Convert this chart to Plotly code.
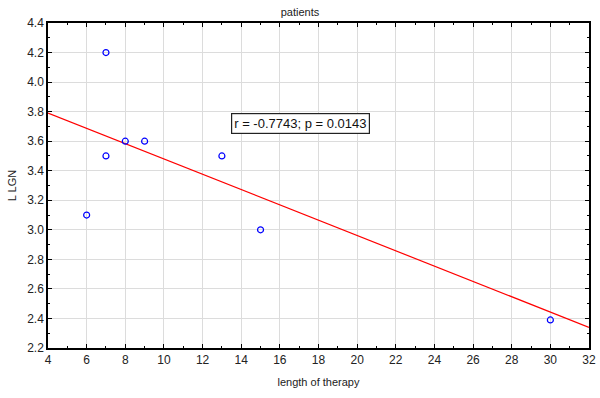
import plotly.graph_objects as go

# data
therapy_length = [6, 7, 7, 8, 9, 13, 15, 30]
l_lgn = [3.1, 4.2, 3.5, 3.6, 3.6, 3.5, 3.0, 2.39]
fit_x = [4, 32]
fit_y = [3.79, 2.34]
annotation_text = "r = -0.7743; p = 0.0143"

font_family = "Liberation Sans, Arial, sans-serif"

fig = go.Figure()
fig.add_trace(go.Scatter(
    x=fit_x, y=fit_y, mode="lines",
    line=dict(color="#ff0000", width=1.2), showlegend=False, hoverinfo="skip"))
fig.add_trace(go.Scatter(
    x=therapy_length, y=l_lgn, mode="markers",
    marker=dict(symbol="circle-open", size=6, color="#0000ff", line=dict(width=1.2, color="#0000ff")),
    showlegend=False))

axis_common = dict(
    showline=True, linecolor="black", linewidth=1.5, mirror="allticks",
    ticks="inside", ticklen=4, tickcolor="black", tickwidth=1,
    showgrid=True, gridcolor="#dcdcdc", gridwidth=1, zeroline=False,
    automargin=False,
    tickfont=dict(family=font_family, size=12, color="#222222"),
)

fig.update_layout(
    width=600, height=398,
    margin=dict(l=48, r=11, t=23, b=50),
    paper_bgcolor="white", plot_bgcolor="white",
    title=dict(text="patients", x=0.5, xanchor="center", y=0.97, yanchor="middle",
               automargin=False,
               font=dict(family=font_family, size=11, color="#222222")),
    xaxis=dict(range=[4, 32], dtick=2, tick0=4,
               minor=dict(dtick=1, ticks="inside", ticklen=2, tickcolor="black", showgrid=False),
               title=dict(text="length of therapy", standoff=12,
                          font=dict(family=font_family, size=11, color="#222222")),
               **axis_common),
    yaxis=dict(range=[2.2, 4.4], dtick=0.2, tick0=2.2, tickformat=".1f",
               minor=dict(dtick=0.1, ticks="inside", ticklen=2, tickcolor="black", showgrid=False),
               title=dict(text="L LGN", standoff=8,
                          font=dict(family=font_family, size=11, color="#222222")),
               **axis_common),
    annotations=[dict(
        x=17.05, y=3.72, xref="x", yref="y", text=annotation_text, showarrow=False,
        font=dict(family=font_family, size=13, color="#111111"),
        bgcolor="white", bordercolor="#222222", borderwidth=1.2, borderpad=2)],
)

fig.write_html("out.html", config={"displayModeBar": False},
               post_script="document.body.style.margin='0';document.body.style.overflow='hidden';")
